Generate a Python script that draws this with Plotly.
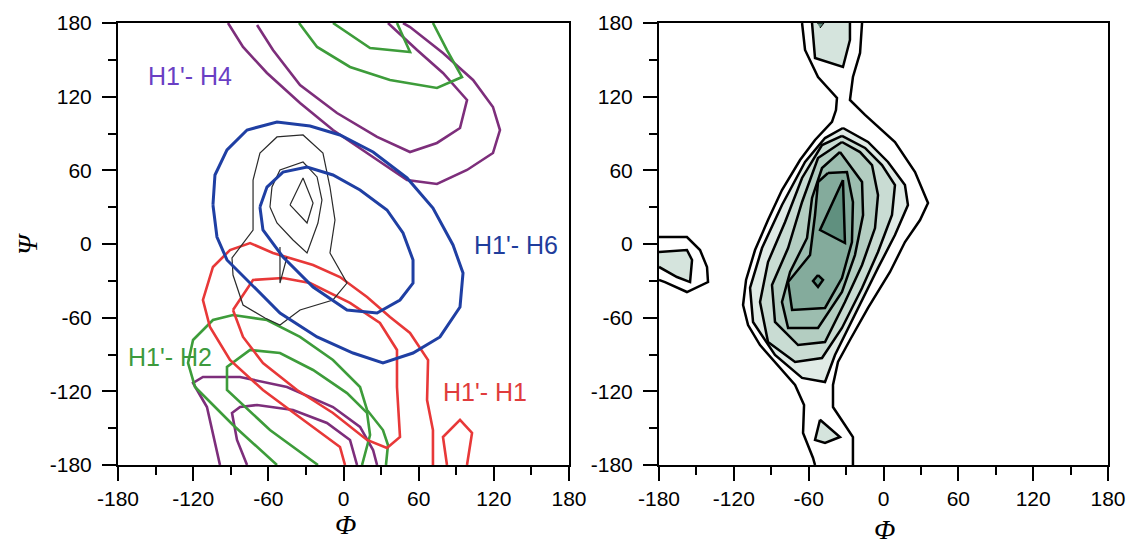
import plotly.graph_objects as go

# ---------------- Left panel: NOE contour lines (phi, psi in degrees) ----------------
H4_OUT_PHI = [-92.2, -80.2, -61.1, -34.7, -8.4, 18.8, 50.7, 74.6, 98.6, 119.3, 124.9, 119.3, 103.4, 79.4, 53.1, 47.5]
H4_OUT_PSI = [180, 160.5, 139.3, 114.8, 92.8, 74.1, 52.1, 48.9, 60.3, 74.1, 92.8, 111.6, 133.6, 155.6, 176.7, 180]
H4_IN_PHI = [-69.0, -56.3, -34.7, -5.2, 26.8, 53.1, 74.6, 93.0, 98.6, 79.4, 58.7, 35.5]
H4_IN_PSI = [178.4, 158.0, 129.5, 106.7, 87.2, 74.9, 82.3, 94.5, 117.3, 139.3, 158.0, 180]
H4_BOT_OUT_PHI = [-98.6, -109.0, -116.9, -120.1, -112.2, -82.6, -45.1, -8.4, 13.2, 23.6, 26.8]
H4_BOT_OUT_PSI = [-180, -132.8, -118.9, -113.2, -108.3, -108.3, -116.5, -132.8, -149.0, -167.8, -180]
H4_BOT_IN_PHI = [-77.0, -85.0, -89.0, -82.6, -69.0, -40.3, -13.2, 5.2, 10.8]
H4_BOT_IN_PSI = [-180, -159.6, -137.6, -132.8, -131.1, -135.2, -145.8, -159.6, -180]

H2_TOP_OUT_PHI = [-35.5, -21.1, 5.2, 37.1, 74.6, 94.6, 82.6, 71.4]
H2_TOP_OUT_PSI = [180, 160.5, 144.2, 133.6, 127.1, 136.0, 158.0, 180]
H2_TOP_IN_PHI = [-8.4, 21.2, 53.1, 42.7]
H2_TOP_IN_PSI = [180, 159.6, 156.4, 180]
H2_BOT_OUT_PHI = [-53.1, -88.2, -118.5, -124.1, -120.1, -104.2, -88.2, -61.1, -34.7, -8.4, 13.2, 18.8, 31.5, 35.5, 33.9]
H2_BOT_OUT_PSI = [-180, -147.4, -116.5, -96.9, -78.2, -61.9, -57.8, -61.9, -75.7, -94.5, -116.5, -135.2, -151.5, -163.7, -180]
H2_BOT_IN_PHI = [-20.4, -58.7, -93.0, -93.0, -74.6, -50.7, -24.3, 2.8, 18.8, 21.2, 14.8]
H2_BOT_IN_PSI = [-180, -151.5, -118.9, -100.2, -86.3, -88.8, -102.6, -121.4, -137.6, -155.6, -180]

H1_OUT_PHI = [1.2, -2.8, -32.3, -64.3, -90.6, -106.6, -112.2, -104.2, -90.6, -74.6, -56.3, -24.3, -2.8, 18.8, 37.1, 53.1, 67.5, 66.7, 71.4, 71.4]
H1_OUT_PSI = [-180, -165.3, -143.2, -118.9, -94.5, -67.6, -45.6, -18.7, -4.9, 0.8, -7.3, -17.1, -26.9, -43.2, -59.5, -72.5, -94.5, -127.1, -151.5, -180]
H1_IN_PHI = [-88.2, -72.2, -48.3, -26.7, 5.2, 29.1, 42.7, 42.7, 45.1, 34.7, 18.8, -8.4, -37.1, -64.3, -80.2, -88.2]
H1_IN_PSI = [-53.8, -29.3, -27.7, -31.8, -48.0, -64.3, -86.3, -116.5, -157.2, -166.1, -159.6, -137.6, -118.9, -96.9, -75.7, -53.8]
H1_SMALL_PHI = [82.6, 79.4, 93.0, 102.6, 98.6]
H1_SMALL_PSI = [-180, -157.2, -143.2, -153.9, -180]

H6_OUT_PHI = [-104.2, -102.6, -93.0, -77.0, -53.1, -26.7, -2.8, 23.6, 50.7, 71.4, 87.4, 95.4, 93.0, 77.0, 55.5, 31.5, 7.6, -21.1, -50.7, -74.6, -93.0, -101.0, -104.2]
H6_OUT_PSI = [31.8, 56.2, 76.6, 92.8, 99.4, 96.1, 88.8, 74.9, 53.8, 29.3, -0.8, -23.6, -51.3, -75.7, -88.8, -96.9, -88.8, -75.7, -56.2, -31.8, -13.0, 5.7, 31.8]
H6_IN_PHI = [-66.7, -61.1, -48.3, -29.1, -8.4, 13.2, 34.7, 47.5, 55.5, 55.5, 45.1, 26.8, 2.8, -24.3, -48.3, -64.3, -66.7]
H6_IN_PSI = [30.1, 46.4, 58.6, 62.7, 56.2, 44.0, 27.7, 9.0, -13.0, -31.8, -45.6, -56.2, -53.8, -35.0, -10.6, 11.4, 30.1]

EXP_OUT_PHI = [-72.2, -66.7, -53.1, -32.3, -16.4, -10.8, -6.8, -10.8, 2.8, -8.4, -34.7, -50.7, -62.7, -80.2, -88.2, -89.0, -72.2, -72.2]
EXP_OUT_PSI = [52.1, 74.1, 87.2, 88.8, 74.1, 46.4, 19.5, -7.3, -31.8, -45.6, -53.8, -66.0, -60.3, -49.7, -25.3, -11.4, 11.4, 52.1]
EXP_MID_PHI = [-58.7, -57.1, -50.7, -32.3, -21.1, -17.2, -20.4, -29.1, -40.3, -53.1, -58.7]
EXP_MID_PSI = [30.1, 46.4, 60.3, 66.8, 54.6, 35.8, 17.1, -7.3, 3.3, 17.1, 30.1]
EXP_SPIKE_PHI = [-50.7, -50.7, -45.1]
EXP_SPIKE_PSI = [-2.4, -31.8, -10.6]
EXP_IN_PHI = [-42.7, -32.3, -24.3, -29.1, -42.7]
EXP_IN_PSI = [31.8, 53.8, 33.4, 17.1, 31.8]

# ---------------- Right panel: MD population map (phi, psi in degrees) ----------------
L1_LEFT_PHI = [-65.3, -62.9, -52.5, -37.3, -38.1, -41.3, -54.9, -66.9, -81.4, -92.6, -103.0, -110.2, -112.6, -108.6, -99.0, -84.6, -70.9, -63.7, -64.5, -56.5, -54.9]
L1_LEFT_PSI = [180, 158.0, 136.0, 118.9, 109.1, 99.4, 84.7, 68.4, 44.0, 19.5, -4.9, -29.3, -49.7, -66.0, -82.3, -98.6, -114.8, -131.1, -153.9, -174.3, -180]
L1_RIGHT_PHI = [-17.2, -18.8, -24.5, -26.9, -14.8, 9.2, 25.3, 35.7, 29.3, 17.2, 5.2, -12.4, -26.9, -36.5, -40.5, -40.5, -30.9, -24.5, -24.5, -24.5]
L1_RIGHT_PSI = [180, 155.6, 136.0, 117.3, 105.1, 83.1, 58.6, 33.4, 19.5, 1.6, -22.8, -52.1, -78.2, -96.1, -114.8, -132.8, -147.4, -157.2, -175.9, -180]
L2_PHI = [-32.5, -12.4, 3.6, 17.2, 19.6, 9.2, -4.4, -20.5, -38.9, -46.9, -65.3, -87.0, -104.6, -107.0, -97.4, -81.4, -62.9, -46.9, -32.5]
L2_PSI = [94.5, 83.1, 66.8, 48.0, 31.8, 7.3, -19.5, -52.1, -90.4, -112.4, -109.1, -90.4, -63.5, -35.8, -3.3, 31.8, 66.8, 86.3, 94.5]
L3_PHI = [-33.3, -14.8, -1.2, 9.2, 6.8, -4.4, -17.2, -33.3, -49.3, -70.9, -92.6, -99.0, -92.6, -78.9, -65.3, -49.3, -33.3]
L3_PSI = [88.0, 78.2, 64.3, 48.0, 23.6, -6.5, -35.8, -68.4, -92.9, -96.1, -79.8, -47.2, -14.7, 17.9, 53.8, 80.6, 88.0]
L4_PHI = [-33.3, -18.8, -9.2, -4.4, -6.8, -17.2, -30.9, -46.9, -68.5, -87.0, -89.4, -76.5, -65.3, -52.5, -33.3]
L4_PSI = [83.1, 74.9, 64.3, 39.9, 13.0, -17.1, -47.2, -79.8, -82.3, -63.5, -33.4, -3.3, 34.2, 70.0, 83.1]
L5_PHI = [-34.9, -17.2, -16.4, -22.9, -33.3, -52.5, -76.5, -81.4, -74.9, -61.3, -57.3, -49.3, -34.9]
L5_PSI = [74.9, 50.5, 23.6, -9.0, -39.1, -68.4, -68.4, -47.2, -22.8, 4.9, 37.5, 61.9, 74.9]
L6_PHI = [-44.5, -29.3, -24.5, -25.3, -33.3, -46.9, -73.3, -76.5, -58.9, -54.9, -52.5, -44.5]
L6_PSI = [57.8, 58.6, 34.2, 1.6, -27.7, -52.1, -53.8, -31.0, -9.0, 23.6, 50.5, 57.8]
CORE_PHI = [-32.5, -30.9, -50.9, -32.5]
CORE_PSI = [52.1, 0.8, 11.4, 52.1]
DIAMOND_PHI = [-52.5, -48.5, -52.5, -56.5, -52.5]
DIAMOND_PSI = [-25.3, -29.3, -35.0, -30.1, -25.3]
TOP_LOOP_PHI = [-57.3, -54.9, -32.5, -26.9, -26.9]
TOP_LOOP_PSI = [180, 151.5, 144.2, 166.2, 180]
TOP_SPOT_PHI = [-53.3, -47.7, -50.9]
TOP_SPOT_PSI = [180, 180, 175.9]
EDGE_OUT_PHI = [-180, -157.6, -147.1, -141.5, -140.7, -157.6, -175.2, -180]
EDGE_OUT_PSI = [5.7, 5.7, -4.9, -18.7, -31.0, -39.1, -31.0, -29.3]
EDGE_IN_PHI = [-180, -157.6, -153.5, -155.1, -165.6, -180]
EDGE_IN_PSI = [-6.5, -4.9, -13.0, -31.0, -26.9, -18.7]
LOW_TRI_PHI = [-50.9, -54.9, -46.9, -34.9, -50.9]
LOW_TRI_PSI = [-143.2, -159.6, -162.0, -157.2, -143.2]

TICKS = [-180, -120, -60, 0, 60, 120, 180]
MINOR_TICKS = [-150, -90, -30, 30, 90, 150]

LABELS = ["H1'- H4", "H1'- H6", "H1'- H2", "H1'- H1"]
LABEL_PHI = [-122.5, 137.7, -138.5, 112.9]
LABEL_PSI = [136.8, -0.8, -92.1, -120.5]
LABEL_COLORS = ["#6a3fc4", "#1f3d9c", "#3d9a3d", "#e03c3c"]

PURPLE = "#7d2e7b"
GREEN = "#3d9c3a"
RED = "#e83838"
BLUE = "#1f3fa3"
BLACK = "#2a2a2a"

fig = go.Figure()


def line(x, y, color, width, xa="x", ya="y"):
    fig.add_trace(go.Scatter(x=x, y=y, mode="lines", xaxis=xa, yaxis=ya,
                             line=dict(color=color, width=width),
                             hoverinfo="skip", showlegend=False))


def filled(x, y, fillcolor, width=2.5, xa="x2", ya="y2"):
    fig.add_trace(go.Scatter(x=x, y=y, mode="lines", xaxis=xa, yaxis=ya, fill="toself",
                             fillcolor=fillcolor, line=dict(color="black", width=width),
                             hoverinfo="skip", showlegend=False))


# left panel
for xs, ys in [(H4_OUT_PHI, H4_OUT_PSI), (H4_IN_PHI, H4_IN_PSI),
               (H4_BOT_OUT_PHI, H4_BOT_OUT_PSI), (H4_BOT_IN_PHI, H4_BOT_IN_PSI)]:
    line(xs, ys, PURPLE, 2.6)
for xs, ys in [(H2_TOP_OUT_PHI, H2_TOP_OUT_PSI), (H2_TOP_IN_PHI, H2_TOP_IN_PSI),
               (H2_BOT_OUT_PHI, H2_BOT_OUT_PSI), (H2_BOT_IN_PHI, H2_BOT_IN_PSI)]:
    line(xs, ys, GREEN, 2.6)
for xs, ys in [(H1_OUT_PHI, H1_OUT_PSI), (H1_IN_PHI, H1_IN_PSI), (H1_SMALL_PHI, H1_SMALL_PSI)]:
    line(xs, ys, RED, 2.6)
for xs, ys in [(EXP_OUT_PHI, EXP_OUT_PSI), (EXP_MID_PHI, EXP_MID_PSI),
               (EXP_SPIKE_PHI, EXP_SPIKE_PSI), (EXP_IN_PHI, EXP_IN_PSI)]:
    line(xs, ys, BLACK, 1.2)
for xs, ys in [(H6_OUT_PHI, H6_OUT_PSI), (H6_IN_PHI, H6_IN_PSI)]:
    line(xs, ys, BLUE, 3)

# right panel
line(L1_LEFT_PHI, L1_LEFT_PSI, "black", 2.5, "x2", "y2")
line(L1_RIGHT_PHI, L1_RIGHT_PSI, "black", 2.5, "x2", "y2")
filled(L2_PHI, L2_PSI, "#e0ebe6")
filled(L3_PHI, L3_PSI, "#c9dcd3")
filled(L4_PHI, L4_PSI, "#b3cdc1")
filled(L5_PHI, L5_PSI, "#9cbdaf")
filled(L6_PHI, L6_PSI, "#84ab9c")
filled(CORE_PHI, CORE_PSI, "#60907f")
filled(DIAMOND_PHI, DIAMOND_PSI, "#60907f")
filled(TOP_LOOP_PHI, TOP_LOOP_PSI, "#d5e4dd")
filled(TOP_SPOT_PHI, TOP_SPOT_PSI, "#5f8a7b", 1)
line(EDGE_OUT_PHI, EDGE_OUT_PSI, "black", 2.5, "x2", "y2")
filled(EDGE_IN_PHI, EDGE_IN_PSI, "#d5e4dd")
filled(LOW_TRI_PHI, LOW_TRI_PSI, "#d5e4dd")

W, H = 1130, 544
ML, MT, MB = 0, 23, 79

axis_common = dict(
    range=[-180, 180], tickmode="array", tickvals=TICKS, ticktext=[str(t) for t in TICKS],
    ticks="outside", ticklen=14, tickwidth=2, tickcolor="black",
    showline=True, linecolor="black", linewidth=2, mirror=True,
    showgrid=False, zeroline=False, automargin=False,
    tickfont=dict(family="Liberation Sans, Arial, sans-serif", size=21, color="black"),
    minor=dict(tickmode="array", tickvals=MINOR_TICKS, ticks="outside", ticklen=8,
               tickwidth=2, tickcolor="black", showgrid=False),
    fixedrange=True,
)

fig.update_layout(
    width=W, height=H, autosize=False,
    margin=dict(l=ML, r=0, t=MT, b=MB, autoexpand=False),
    paper_bgcolor="white", plot_bgcolor="white",
    showlegend=False,
    xaxis=dict(domain=[118 / W, 569 / W], anchor="y", **axis_common),
    yaxis=dict(domain=[0, 1], anchor="x", ticklabelstandoff=6, **axis_common),
    xaxis2=dict(domain=[659 / W, 1108 / W], anchor="y2", **axis_common),
    yaxis2=dict(domain=[0, 1], anchor="x2", ticklabelstandoff=6, **axis_common),
)

annotations = []
for txt, px, py, col in zip(LABELS, LABEL_PHI, LABEL_PSI, LABEL_COLORS):
    annotations.append(dict(x=px, y=py, xref="x", yref="y", text=txt, showarrow=False,
                            font=dict(family="Liberation Sans, Arial, sans-serif", size=25, color=col),
                            xanchor="center", yanchor="middle"))

ph = H - MT - MB
title_font = dict(family="Liberation Serif, Times New Roman, serif", size=28, color="black")
annotations.append(dict(x=345 / W, y=(465 - 524) / ph, xref="paper", yref="paper",
                        text="<i>Φ</i>", showarrow=False, font=title_font,
                        xanchor="center", yanchor="middle"))
annotations.append(dict(x=884 / W, y=(465 - 529) / ph, xref="paper", yref="paper",
                        text="<i>Φ</i>", showarrow=False, font=title_font,
                        xanchor="center", yanchor="middle"))
annotations.append(dict(x=27 / W, y=(465 - 244) / ph, xref="paper", yref="paper",
                        text="<i>Ψ</i>", showarrow=False, font=title_font, textangle=-90,
                        xanchor="center", yanchor="middle"))
fig.update_layout(annotations=annotations)

fig.write_html("out.html")
